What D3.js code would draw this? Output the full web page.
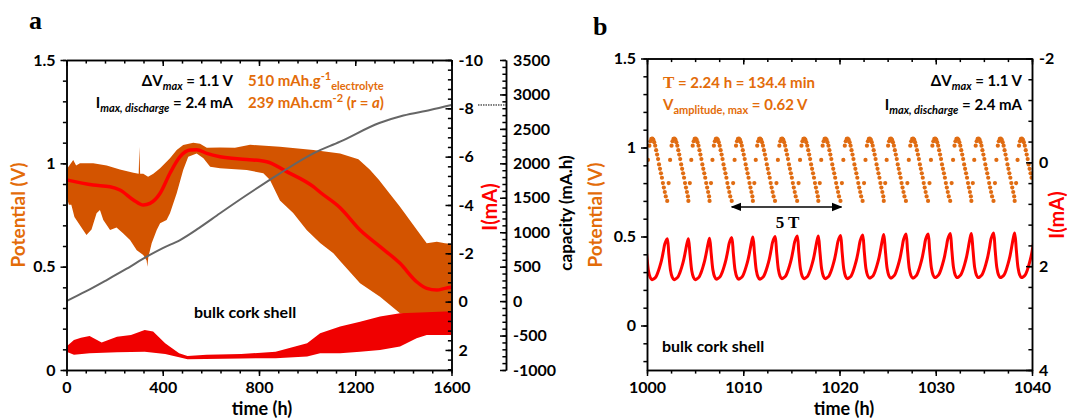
<!DOCTYPE html>
<html>
<head>
<meta charset="utf-8">
<script src="https://cdn.jsdelivr.net/npm/d3@7"></script>
<style>
  body { margin: 0; background: #fff; }
  text { font-family: Lato, "Open Sans", sans-serif; font-weight: bold; }
  .tick text { font-size: 16px; fill: #000; }
  .serif { font-family: "Liberation Serif", "DejaVu Serif", serif; }
</style>
</head>
<body>
<svg id="chart" width="1067" height="420"></svg>
<script>
// ---------- panel a data ----------
// potential band envelope, V vs time (h)
var bandTopTime = [0, 28, 40, 56, 111, 167, 222, 278, 300, 303, 306, 319, 339, 361, 389, 430, 458, 485, 527, 555, 583, 638, 700, 763, 887, 1026, 1137, 1213, 1260, 1298, 1341, 1386, 1455, 1497, 1539, 1573, 1600]
var bandTopV = [0.97, 1.016, 0.99, 1.0, 1.0, 0.99, 0.97, 0.955, 0.95, 1.08, 0.95, 0.95, 0.935, 0.95, 0.976, 1.024, 1.064, 1.089, 1.10, 1.095, 1.075, 1.077, 1.075, 1.09, 1.08, 1.064, 1.048, 1.02, 0.97, 0.92, 0.857, 0.79, 0.68, 0.613, 0.62, 0.613, 0.61]
var bandBottomTime = [0, 10, 20, 33, 69, 83, 104, 125, 139, 153, 181, 208, 236, 264, 292, 319, 333, 336, 340, 354, 375, 389, 416, 430, 458, 485, 506, 541, 569, 597, 638, 749, 818, 845, 887, 942, 998, 1054, 1109, 1137, 1220, 1303, 1386, 1450, 1600]
var bandBottomV = [0.84, 0.80, 0.80, 0.74, 0.677, 0.653, 0.68, 0.758, 0.774, 0.726, 0.677, 0.69, 0.661, 0.629, 0.58, 0.556, 0.53, 0.50, 0.545, 0.613, 0.677, 0.71, 0.726, 0.758, 0.855, 0.968, 1.032, 1.048, 1.024, 0.984, 0.976, 0.968, 0.952, 0.92, 0.82, 0.76, 0.677, 0.615, 0.565, 0.528, 0.42, 0.355, 0.274, 0.26, 0.26]

// smoothed potential (red line)
var smoothTime = [0, 111, 181, 222, 278, 319, 347, 389, 430, 472, 513, 541, 583, 638, 749, 832, 915, 1026, 1054, 1137, 1220, 1303, 1386, 1455, 1497, 1539, 1573, 1600]
var smoothV = [0.92, 0.895, 0.887, 0.871, 0.823, 0.798, 0.806, 0.855, 0.952, 1.032, 1.064, 1.066, 1.048, 1.032, 1.019, 1.008, 0.96, 0.887, 0.86, 0.785, 0.677, 0.597, 0.516, 0.427, 0.395, 0.387, 0.395, 0.40]

// capacity (grey line), mA.h
var capTime = [0, 80, 167, 250, 333, 400, 472, 550, 638, 749, 887, 1026, 1137, 1300, 1400, 1511, 1600]
var capValue = [0, 140, 306, 470, 645, 770, 887, 1060, 1275, 1540, 1855, 2145, 2314, 2585, 2694, 2774, 2847]

// current band, mA (axis reversed)
var curTopTime = [0, 31, 60, 96, 146, 210, 268, 325, 360, 410, 468, 503, 582, 726, 869, 1000, 1054, 1137, 1220, 1303, 1386, 1469, 1573, 1600]
var curTopI = [1.86, 1.59, 1.5, 1.42, 1.69, 1.45, 1.38, 1.17, 1.24, 1.72, 2.14, 2.25, 2.2, 2.17, 2.07, 1.72, 1.31, 1.03, 0.83, 0.62, 0.48, 0.455, 0.41, 0.41]
var curBottomTime = [0, 31, 96, 210, 325, 410, 468, 503, 726, 869, 1000, 1054, 1137, 1220, 1303, 1386, 1455, 1497, 1600]
var curBottomI = [2.07, 2.2, 2.14, 2.1, 2.07, 2.17, 2.3, 2.38, 2.35, 2.34, 2.27, 2.14, 2.14, 2.07, 2.0, 1.86, 1.52, 1.38, 1.38]

var xTicksA = [0, 400, 800, 1200, 1600]
var vTicksA = [0, 0.5, 1, 1.5]
var iTicksA = [-10, -8, -6, -4, -2, 0, 2]
var capTicks = [-1000, -500, 0, 500, 1000, 1500, 2000, 2500, 3000, 3500]

// ---------- panel b data ----------
// times of the current peaks (= potential minima), h
var peakTime = [999.8, 1002.1, 1004.3, 1006.5, 1008.8, 1011.0, 1013.3, 1015.6, 1017.8, 1020.1, 1022.4, 1024.6, 1026.9, 1029.2, 1031.5, 1033.7, 1036.0, 1038.2, 1040.5]
var peakI = [1.48, 1.47, 1.47, 1.46, 1.45, 1.44, 1.43, 1.42, 1.42, 1.41, 1.40, 1.39, 1.38, 1.38, 1.37, 1.37, 1.36, 1.36, 1.36]
var troughI = [2.26, 2.26, 2.26, 2.25, 2.25, 2.25, 2.24, 2.24, 2.24, 2.24, 2.23, 2.23, 2.23, 2.22, 2.22, 2.22, 2.22, 2.22, 2.22]
// one cycle of the current, hours after the peak, share of the peak height
var curShapeOffset = [0, 0.17, 0.35, 0.52, 0.7, 0.9, 1.1, 1.3, 1.5, 1.7, 1.9, 2.05]
var curShapeShare = [1, 0.62, 0.22, 0.06, 0, 0.02, 0.06, 0.16, 0.3, 0.47, 0.7, 0.88]
// one cycle of the sampled potential, hours after the current peak
var potShapeOffset = [0, 0.15, 0.3, 0.45, 0.55, 0.65, 0.75, 0.85, 0.95, 1.05, 1.15, 1.25, 1.35, 1.45, 1.55, 1.65, 1.75, 1.85, 1.95, 2.05, 2.15]
var potShapeV = [0.70, 0.80, 0.93, 1.01, 1.035, 1.048, 1.05, 1.045, 1.03, 1.01, 0.985, 0.96, 0.935, 0.905, 0.88, 0.855, 0.83, 0.80, 0.775, 0.75, 0.725]

var xTicksB = [1000, 1010, 1020, 1030, 1040]
var vTicksB = [0, 0.5, 1, 1.5]
var iTicksB = [-2, 0, 2, 4]
var fiveT = [1008.8, 1020.2]

// ---------- colours ----------
var orangeBand = "#d35400", orangeDot = "#e06c12", orangeText = "#e36c09"
var red = "#ff0000", redBand = "#f00000", grey = "#666666"

var svg = d3.select("#chart")
var defs = svg.append("defs")

function zip(a, b) { return a.map((d, i) => [d, b[i]]) }
function fmt(d) { return String(d) }

function addAxis(g, make, scale, major, minor, tx, ty, size, pad, labels) {
  var gm = g.append("g").attr("transform", "translate(" + tx + "," + ty + ")")
    .call(make(scale).tickValues(minor).tickSizeInner(size * 0.6).tickSizeOuter(0).tickFormat(""))
  var gM = g.append("g").attr("transform", "translate(" + tx + "," + ty + ")")
    .call(make(scale).tickValues(major).tickSizeInner(size).tickSizeOuter(0).tickPadding(pad).tickFormat(labels ? fmt : ""))
  ;[gm, gM].forEach(a => {
    a.attr("font-family", null).attr("font-size", null)
    a.selectAll("path, line").attr("stroke", "#000").attr("stroke-width", 1.5)
  })
  return gM
}

function clip(id, box) {
  defs.append("clipPath").attr("id", id).append("rect")
    .attr("x", box.l).attr("y", box.t).attr("width", box.r - box.l).attr("height", box.b - box.t)
}

// ================= panel a =================
var A = {l: 66.5, r: 451.5, t: 60, b: 370}
var xA = d3.scaleLinear().domain([0, 1600]).range([A.l, A.r])
var vA = d3.scaleLinear().domain([0, 1.5]).range([A.b, A.t])
var iA = d3.scaleLinear().domain([-10, 2.83]).range([A.t, A.b])
var cA = d3.scaleLinear().domain([-1000, 3500]).range([A.b, A.t])
clip("clipA", A)

var ga = svg.append("g")
var plotA = ga.append("g").attr("clip-path", "url(#clipA)")

var bandPts = zip(bandTopTime, bandTopV).concat(zip(bandBottomTime, bandBottomV).reverse())
plotA.append("path")
  .attr("d", d3.line().x(d => xA(d[0])).y(d => vA(d[1]))(bandPts) + "Z")
  .attr("fill", orangeBand)

var curPts = zip(curTopTime, curTopI).concat(zip(curBottomTime, curBottomI).reverse())
plotA.append("path")
  .attr("d", d3.line().x(d => xA(d[0])).y(d => iA(d[1]))(curPts) + "Z")
  .attr("fill", redBand)

plotA.append("path")
  .datum(zip(smoothTime, smoothV))
  .attr("d", d3.line().x(d => xA(d[0])).y(d => vA(d[1])).curve(d3.curveMonotoneX))
  .attr("fill", "none").attr("stroke", red).attr("stroke-width", 3.5)

plotA.append("path")
  .datum(zip(capTime, capValue))
  .attr("d", d3.line().x(d => xA(d[0])).y(d => cA(d[1])).curve(d3.curveMonotoneX))
  .attr("fill", "none").attr("stroke", grey).attr("stroke-width", 2)

// axes
addAxis(ga, d3.axisBottom, xA, xTicksA, d3.range(0, 1601, 80), 0, A.b, 6, 6, true)
addAxis(ga, d3.axisBottom, xA, xTicksA, d3.range(0, 1601, 80), 0, A.t, 6, 0, false)
addAxis(ga, d3.axisLeft, vA, vTicksA, d3.range(0, 1.51, 0.1), A.l, 0, 6, 5, true)
addAxis(ga, d3.axisRight, iA, iTicksA, d3.range(-10, 2.81, 0.4), A.r, 0, -6, 7, true)
addAxis(ga, d3.axisRight, cA, capTicks, d3.range(-1000, 3501, 100), 506, 0, -6, 7, true)

// dotted connector to the capacity axis
ga.append("line")
  .attr("x1", 478).attr("x2", 506)
  .attr("y1", cA(capValue[capValue.length - 1])).attr("y2", cA(capValue[capValue.length - 1]))
  .attr("stroke", "#000").attr("stroke-width", 1).attr("stroke-dasharray", "1.5,1")

// axis titles
ga.append("text").attr("x", 262).attr("y", 415).attr("text-anchor", "middle")
  .style("font-size", "18px").text("time (h)")
ga.append("text").attr("transform", "translate(25,215) rotate(-90)").attr("text-anchor", "middle")
  .attr("fill", orangeText).style("font-size", "19px").text("Potential (V)")
ga.append("text").attr("transform", "translate(497,207) rotate(-90)").attr("text-anchor", "middle")
  .attr("fill", red).style("font-size", "20px").text("I(mA)")
ga.append("text").attr("transform", "translate(572,213) rotate(-90)").attr("text-anchor", "middle")
  .attr("fill", "#000").style("font-size", "17px").text("capacity (mA.h)")

// annotations
function subText(g, x, y, anchor, color, parts) {
  var t = g.append("text").attr("x", x).attr("y", y).attr("text-anchor", anchor)
    .attr("fill", color).style("font-size", "15px")
  var shift = 0
  parts.forEach(p => {
    var s = t.append("tspan").text(p.t)
    var want = p.sub ? 4 : p.sup ? -6 : 0
    s.attr("dy", want - shift); shift = want
    if (p.sub || p.sup) s.style("font-size", "11px")
    if (p.it) s.style("font-style", "italic")
    if (p.serif) s.attr("class", "serif").style("font-size", "17px")
  })
  return t
}

subText(ga, 233, 86, "end", "#000", [{t: "ΔV"}, {t: "max", sub: true, it: true}, {t: " = 1.1 V"}])
subText(ga, 233, 108, "end", "#000", [{t: "I"}, {t: "max, discharge", sub: true, it: true}, {t: " = 2.4 mA"}])
subText(ga, 248, 86, "start", orangeText, [{t: "510 mAh.g"}, {t: "-1", sup: true}, {t: "electrolyte", sub: true}])
subText(ga, 248, 108, "start", orangeText, [{t: "239 mAh.cm"}, {t: "-2", sup: true}, {t: " (r = "}, {t: "a", it: true}, {t: ")"}])

ga.append("text").attr("x", 245).attr("y", 318).attr("text-anchor", "middle")
  .style("font-size", "16px").text("bulk cork shell")
ga.append("text").attr("class", "serif").attr("x", 29).attr("y", 29)
  .style("font-size", "26px").text("a")

// ================= panel b =================
var B = {l: 647, r: 1032, t: 58.5, b: 370}
var xB = d3.scaleLinear().domain([1000, 1040]).range([B.l, B.r])
var vB = d3.scaleLinear().domain([-0.25, 1.5]).range([B.b, B.t])
var iB = d3.scaleLinear().domain([-2, 4]).range([B.t, B.b])
clip("clipB", B)

var gb = svg.append("g")
var plotB = gb.append("g").attr("clip-path", "url(#clipB)")

var curLine = [], potDots = []
peakTime.forEach((tp, k) => {
  curShapeOffset.forEach((o, j) => {
    curLine.push([tp + o, troughI[k] + curShapeShare[j] * (peakI[k] - troughI[k])])
  })
  potShapeOffset.forEach((o, j) => potDots.push([tp + o, potShapeV[j]]))
})

plotB.append("path")
  .datum(curLine)
  .attr("d", d3.line().x(d => xB(d[0])).y(d => iB(d[1])).curve(d3.curveCatmullRom.alpha(0.5)))
  .attr("fill", "none").attr("stroke", red).attr("stroke-width", 3)

plotB.selectAll("circle.pot")
  .data(potDots.filter(d => d[0] >= 1000 && d[0] <= 1040))
  .enter().append("circle").attr("class", "pot")
  .attr("cx", d => xB(d[0])).attr("cy", d => vB(d[1])).attr("r", 2.1)
  .attr("fill", orangeDot)

addAxis(gb, d3.axisBottom, xB, xTicksB, d3.range(1000, 1040.1, 2.5), 0, B.b, 6, 6, true)
addAxis(gb, d3.axisBottom, xB, xTicksB, d3.range(1000, 1040.1, 2.5), 0, B.t, 6, 0, false)
addAxis(gb, d3.axisLeft, vB, vTicksB, d3.range(-0.2, 1.51, 0.1), B.l, 0, 6, 5, true)
addAxis(gb, d3.axisRight, iB, iTicksB, d3.range(-2, 4.01, 0.4), B.r, 0, -6, 7, true)

// 5 T arrow
;["arrowS", "arrowE"].forEach((id, i) => {
  defs.append("marker").attr("id", id).attr("viewBox", "0 0 10 10")
    .attr("refX", i ? 9 : 1).attr("refY", 5).attr("markerWidth", 7).attr("markerHeight", 7)
    .attr("orient", "auto")
    .append("path").attr("d", i ? "M0,1L10,5L0,9Z" : "M10,1L0,5L10,9Z").attr("fill", "#000")
})
gb.append("line")
  .attr("x1", xB(fiveT[0])).attr("x2", xB(fiveT[1]))
  .attr("y1", vB(0.666)).attr("y2", vB(0.666))
  .attr("stroke", "#000").attr("stroke-width", 1.5)
  .attr("marker-start", "url(#arrowS)").attr("marker-end", "url(#arrowE)")
gb.append("text").attr("class", "serif").attr("x", xB((fiveT[0] + fiveT[1]) / 2) + 1).attr("y", 228)
  .attr("text-anchor", "middle").style("font-size", "17px").text("5 T")

gb.append("text").attr("x", 844).attr("y", 415).attr("text-anchor", "middle")
  .style("font-size", "18px").text("time (h)")
gb.append("text").attr("transform", "translate(602,215) rotate(-90)").attr("text-anchor", "middle")
  .attr("fill", orangeText).style("font-size", "19px").text("Potential (V)")
gb.append("text").attr("transform", "translate(1064,215) rotate(-90)").attr("text-anchor", "middle")
  .attr("fill", red).style("font-size", "20px").text("I(mA)")

subText(gb, 663, 88, "start", orangeText, [{t: "T", serif: true}, {t: " = 2.24 h = 134.4 min"}])
subText(gb, 663, 110, "start", orangeText, [{t: "V"}, {t: "amplitude, max", sub: true}, {t: " = 0.62 V"}])
subText(gb, 1022, 86, "end", "#000", [{t: "ΔV"}, {t: "max", sub: true, it: true}, {t: " = 1.1 V"}])
subText(gb, 1022, 110, "end", "#000", [{t: "I"}, {t: "max, discharge", sub: true, it: true}, {t: " = 2.4 mA"}])

gb.append("text").attr("x", 662).attr("y", 352).style("font-size", "16px").text("bulk cork shell")
gb.append("text").attr("class", "serif").attr("x", 593).attr("y", 35)
  .style("font-size", "26px").text("b")
</script>
</body>
</html>
